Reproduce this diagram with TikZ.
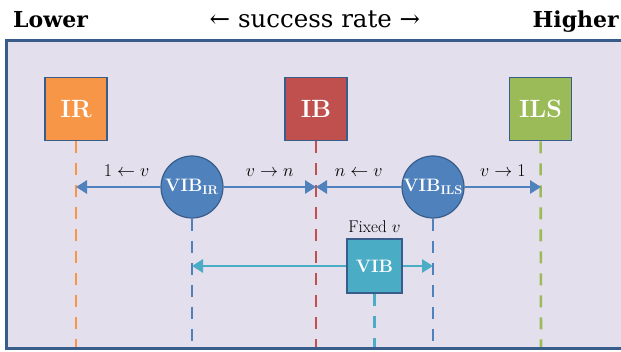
\documentclass[tikz,border=0pt]{standalone}
\usepackage{fix-cm}
\usepackage{fontspec}
\newfontfamily\titlefont{DejaVu Serif}
\usepackage{xcolor}
\usepackage{tikz}
\usetikzlibrary{arrows.meta}
\usetikzlibrary{positioning}
\definecolor{framefill}{HTML}{E4DFEC}
\definecolor{framedraw}{HTML}{385D8A}
\definecolor{irorange}{HTML}{F79646}
\definecolor{ibred}{HTML}{C0504D}
\definecolor{ilsgreen}{HTML}{9BBB59}
\definecolor{vibblue}{HTML}{4F81BD}
\definecolor{vibcyan}{HTML}{4BACC6}
\tikzset{
    boxnode/.style = {rectangle, draw=framedraw, line width=1.6pt, text=white, inner sep=0pt, font=\fontsize{25}{28}\selectfont\bfseries, minimum width=62pt, minimum height=63pt},
    vibnode/.style = {circle, draw=framedraw, line width=1.2pt, fill=vibblue, text=white, inner sep=0pt, font=\fontsize{18}{20}\selectfont\bfseries, minimum size=62pt},
    vibbox/.style = {rectangle, draw=framedraw, line width=1.6pt, fill=vibcyan, text=white, inner sep=0pt, font=\fontsize{18}{22}\selectfont\bfseries, minimum width=55pt, minimum height=54pt},
    toplabel/.style = {inner sep=0pt, text=black, font=\titlefont\fontsize{22}{26}\selectfont\bfseries},
    ratelabel/.style = {inner sep=0pt, text=black, font=\titlefont\fontsize{24.5}{28}\selectfont},
    mathlabel/.style = {inner sep=0pt, text=black, font=\fontsize{18}{22}\selectfont},
    fixedlabel/.style = {inner sep=0pt, text=black, font=\fontsize{17}{20}\selectfont},
}

\begin{document}
\begin{tikzpicture}[x=1pt, y=-1pt]
\tikzset{
    edgeb/.style = {-{Triangle[length=11pt,width=13pt]}, line width=2.8pt, vibblue},
    edgec/.style = {-{Triangle[length=11pt,width=13pt]}, line width=2.8pt, vibcyan},
    dashline/.style = {-, line width=2.6pt, dash pattern=on 12pt off 10pt}
}
\useasboundingbox (0,0) rectangle (621,352);
\clip (0,0) rectangle (621,352);
\draw[framedraw, fill=framefill, line width=3pt] (6,40.5) rectangle (660,348.5);
% titles
\node[toplabel, anchor=base west] at (13,28) (lower) {Lower};
\node[ratelabel, anchor=base] at (315,28) (rate) {← success rate →};
\node[toplabel, anchor=base east] at (619,28) (higher) {Higher};
% end points on the dashed lines
\coordinate (irmid) at (76,187);
\coordinate (ibmid) at (316,187);
\coordinate (ilsmid) at (541,187);
\coordinate (vibirmid) at (192,266);
\coordinate (vibilsmid) at (433,266);
\coordinate (irbot) at (76,347);
\coordinate (ibbot) at (316,347);
\coordinate (ilsbot) at (541,347);
\coordinate (vibirbot) at (192,347);
\coordinate (vibilsbot) at (433,347);
\coordinate (vibbot) at (374.5,347);
%
\node[boxnode, fill=irorange] at (76,109) (ir) {IR};
\node[boxnode, fill=ibred] at (316,109) (ib) {IB};
\node[boxnode, fill=ilsgreen] at (540.5,109) (ils) {ILS};
\node[vibnode] at (192,187) (vibir) {VIB\textsubscript{IR}};
\node[vibnode] at (433,187) (vibils) {VIB\textsubscript{ILS}};
\node[vibbox] at (374.5,266) (vib) {VIB};
\node[fixedlabel, above=5pt of vib] (fixed) {Fixed $v$};
%
\draw[dashline, irorange] (ir) edge (irbot);
\draw[dashline, ibred] (ib) edge (ibbot);
\draw[dashline, ilsgreen] (ils) edge (ilsbot);
\draw[dashline, vibblue] (vibir) edge (vibirbot);
\draw[dashline, vibblue] (vibils) edge (vibilsbot);
\draw[dashline, vibcyan] (vib) edge (vibbot);
%
\draw[edgeb] (vibir) edge node[mathlabel, above=9pt, pos=0.4] {$1 \leftarrow v$} (irmid);
\draw[edgeb] (vibir) edge node[mathlabel, above=9pt] {$v \rightarrow n$} (ibmid);
\draw[edgeb] (vibils) edge node[mathlabel, above=9pt] {$n \leftarrow v$} (ibmid);
\draw[edgeb] (vibils) edge node[mathlabel, above=9pt] {$v \rightarrow 1$} (ilsmid);
%
\draw[edgec] (vib) edge (vibirmid);
\draw[edgec] (vib) edge (vibilsmid);
\end{tikzpicture}
\end{document}
